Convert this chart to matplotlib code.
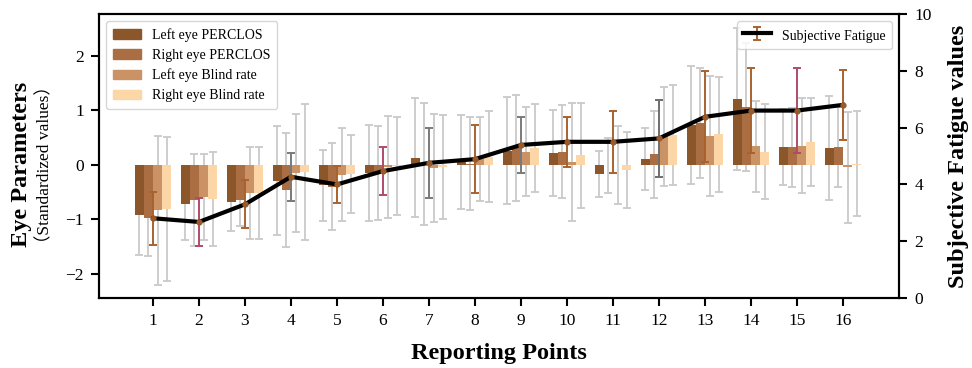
import matplotlib
matplotlib.use("Agg")
import matplotlib.pyplot as plt
import numpy as np
from matplotlib.patches import Patch

plt.rcParams['font.family'] = ['Liberation Serif', 'Noto Sans CJK SC', 'DejaVu Serif']
plt.rcParams['mathtext.fontset'] = 'stix'

points = list(range(1, 17))
series_names = ["Left eye PERCLOS", "Right eye PERCLOS", "Left eye Blind rate", "Right eye Blind rate"]

left_perclos = [-0.92, -0.72, -0.68, -0.29, -0.38, -0.15, 0.13, 0.05, 0.26, 0.21, -0.17, 0.11, 0.73, 1.21, 0.32, 0.31]
right_perclos = [-0.98, -0.65, -0.65, -0.47, -0.40, -0.15, 0.01, 0.02, 0.31, 0.24, -0.01, 0.19, 0.77, 1.06, 0.32, 0.33]
left_blink = [-0.84, -0.59, -0.52, -0.15, -0.18, -0.04, -0.06, 0.11, 0.24, 0.05, 0.00, 0.52, 0.53, 0.34, 0.35, -0.05]
right_blink = [-0.81, -0.63, -0.52, -0.14, -0.17, -0.03, -0.04, 0.15, 0.31, 0.17, -0.09, 0.55, 0.56, 0.24, 0.42, 0.02]

left_perclos_err = [0.73, 0.66, 0.53, 1.00, 0.66, 0.88, 1.09, 0.86, 0.98, 0.79, 0.42, 0.57, 1.08, 1.31, 0.70, 0.96]
right_perclos_err = [0.69, 0.85, 0.48, 1.05, 0.80, 0.87, 1.12, 0.86, 0.98, 0.86, 0.51, 0.80, 1.01, 1.17, 0.72, 0.74]
left_blink_err = [1.37, 0.79, 0.84, 1.09, 0.85, 0.93, 1.00, 0.77, 0.82, 1.09, 0.72, 0.91, 1.10, 0.84, 0.87, 1.02]
right_blink_err = [1.32, 0.86, 0.85, 1.25, 0.71, 0.90, 0.96, 0.83, 0.81, 0.96, 0.70, 0.92, 1.06, 0.87, 0.81, 0.97]

fatigue = [2.81, 2.68, 3.30, 4.27, 4.00, 4.47, 4.76, 4.89, 5.39, 5.50, 5.50, 5.62, 6.38, 6.60, 6.60, 6.80]
fatigue_err = [0.93, 0.84, 0.85, 0.84, 0.66, 0.85, 1.22, 1.20, 0.97, 0.87, 1.10, 1.35, 1.60, 1.50, 1.50, 1.23]

bar_colors = ['#8B5629', '#AA6E42', '#CB9365', '#FDD6A8']
fatigue_ecolors = ['#A8622E', '#B04A6A', '#A8622E', '#7a7a7a', '#A8622E', '#B04A6A', '#7a7a7a', '#A8622E',
                   '#7a7a7a', '#A8622E', '#A8622E', '#6e6e6e', '#A8622E', '#A8622E', '#B04A6A', '#A8622E']

fig = plt.figure(figsize=(9.72, 3.68), dpi=100)
ax = fig.add_axes([0.102, 0.190, 0.823, 0.772])
ax2 = ax.twinx()

x = np.array(points, dtype=float)
width = 0.2
offsets = [-0.3, -0.1, 0.1, 0.3]
vals = [left_perclos, right_perclos, left_blink, right_blink]
errs = [left_perclos_err, right_perclos_err, left_blink_err, right_blink_err]
for off, v, e, c, name in zip(offsets, vals, errs, bar_colors, series_names):
    ax.bar(x + off, v, width=width, color=c, label=name, zorder=3)
    ax.errorbar(x + off, v, yerr=e, fmt='none', ecolor='#c9c9c9', elinewidth=1.3,
                capsize=3, capthick=1.3, zorder=2)

ax.set_xlim(-0.17, 17.22)
ax.set_ylim(-2.45, 2.77)
ax.set_xticks(points)
ax.set_yticks([-2, -1, 0, 1, 2])
ax.tick_params(axis='both', labelsize=12.5, width=1.5, length=6, pad=5)

for i in range(len(points)):
    ax2.errorbar(x[i], fatigue[i], yerr=fatigue_err[i], fmt='none', ecolor=fatigue_ecolors[i],
                 elinewidth=1.4, capsize=3, capthick=1.4, zorder=3)
ax2.plot(x, fatigue, color='black', lw=3, zorder=4)
ax2.plot(x, fatigue, 'o', color='#9B5A2A', ms=3.5, zorder=5)
ax2.set_ylim(0, 10)
ax2.set_yticks([0, 2, 4, 6, 8, 10])
ax2.tick_params(axis='y', labelsize=12.5, width=1.5, length=6, pad=5)

for a in (ax, ax2):
    for s in a.spines.values():
        s.set_linewidth(1.5)

leg1 = ax.legend(handles=[Patch(color=c, label=n) for c, n in zip(bar_colors, series_names)],
                 loc='upper left', fontsize=10, framealpha=0.8, borderpad=0.5)
fat_handle = ax2.errorbar([np.nan], [np.nan], yerr=[1], color='black', lw=3, ecolor='#A8622E',
                          elinewidth=1.4, capsize=3, capthick=1.4)
ax2.legend([fat_handle], ["Subjective Fatigue"], loc='upper right', fontsize=10, framealpha=0.8,
           handleheight=1.4, borderpad=0.45)

ax.text(-0.0965, 0.47, "Eye Parameters", transform=ax.transAxes, rotation=90,
        ha='center', va='center', fontsize=17.5, fontweight='bold')
ax.text(-0.068, 0.47, "\uff08Standardized values\uff09", transform=ax.transAxes, rotation=90,
        ha='center', va='center', fontsize=12.5)
ax2.set_ylabel("Subjective Fatigue values", fontsize=17.5, fontweight='bold', labelpad=12)
ax.set_xlabel("Reporting Points", fontsize=17.5, fontweight='bold', labelpad=10)

fig.savefig("out.png", dpi=100)
